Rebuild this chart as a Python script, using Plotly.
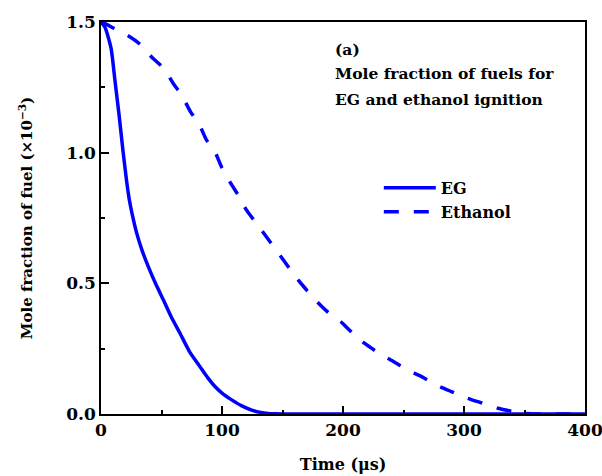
import plotly.graph_objects as go

# Time axis (microseconds) and fuel mole fraction (x 1e-3)
eg_time = [0, 3.3, 8.3, 11.6, 14.9, 17.9, 21.2, 23.4, 25.9, 29.5, 34, 39.1, 45, 51.5,
           58, 65.3, 73, 81.8, 88, 94.2, 101, 108, 116, 124.5, 132, 138, 145, 150, 200, 300, 400]
eg_frac = [1.5, 1.48, 1.40, 1.273, 1.146, 1.018, 0.89, 0.82, 0.762, 0.692, 0.625, 0.564, 0.50, 0.437,
           0.372, 0.309, 0.24, 0.181, 0.14, 0.105, 0.076, 0.054, 0.032, 0.015, 0.006, 0.002, 0.0005, 0, 0, 0, 0]

ethanol_time = [0, 5, 11, 22, 32, 42, 52, 60, 67, 74, 81, 87, 94, 100, 107, 114, 120, 130, 140,
                150, 160, 168, 177, 187, 198, 208, 218, 229, 242, 253, 265, 277, 290, 302, 315,
                328, 340, 352, 358, 400]
ethanol_frac = [1.5, 1.49, 1.475, 1.449, 1.416, 1.365, 1.322, 1.263, 1.218, 1.156, 1.11, 1.05, 1.005,
                0.941, 0.884, 0.833, 0.782, 0.72, 0.657, 0.594, 0.53, 0.485, 0.437, 0.392, 0.354,
                0.309, 0.27, 0.235, 0.2, 0.169, 0.143, 0.111, 0.085, 0.062, 0.042, 0.022, 0.01,
                0.002, 0, 0]

x_ticks = [0, 100, 200, 300, 400]
y_ticks = [0.0, 0.5, 1.0, 1.5]

panel_lines = ["(a)", "Mole fraction of fuels for", "EG and ethanol ignition"]

FONT = "DejaVu Serif"
BLUE = "#0000ff"


def bold(size):
    return dict(family=FONT, size=size, color="black", weight="bold")


fig = go.Figure()
fig.add_trace(go.Scatter(x=eg_time, y=eg_frac, mode="lines", name="EG",
                         line=dict(color=BLUE, width=3.5, shape="spline", smoothing=0.6)))
fig.add_trace(go.Scatter(x=ethanol_time, y=ethanol_frac, mode="lines", name="Ethanol",
                         line=dict(color=BLUE, width=3.5, dash="15px,15px", shape="spline", smoothing=0.6)))

axis_common = dict(showline=True, linecolor="black", linewidth=1.5, mirror=True,
                   ticks="inside", ticklen=8, tickwidth=1.5, tickcolor="black",
                   showgrid=False, zeroline=False, automargin=False,
                   ticklabeloverflow="allow", tickfont=bold(17))

fig.update_xaxes(range=[0, 400], tickvals=x_ticks, ticktext=[str(v) for v in x_ticks],
                 minor=dict(ticks="inside", ticklen=4, tickwidth=1.5, tickcolor="black", dtick=50),
                 title=dict(text="Time (μs)", font=bold(16), standoff=20),
                 **axis_common)
fig.update_yaxes(range=[0, 1.5], tickvals=y_ticks, ticktext=[f"{v:.1f}" for v in y_ticks],
                 minor=dict(ticks="inside", ticklen=4, tickwidth=1.5, tickcolor="black", dtick=0.25),
                 title=dict(text="Mole fraction of fuel (×10<sup>−3</sup>)", font=bold(15), standoff=30),
                 **axis_common)

# Panel label and description, one line per annotation
for text, ypos in zip(panel_lines, [0.931, 0.869, 0.803]):
    fig.add_annotation(x=0.4795, y=ypos, xref="paper", yref="paper", xanchor="left",
                       yanchor="middle", align="left", showarrow=False, text=text,
                       font=bold(15.5))

fig.update_layout(
    width=602, height=476,
    margin=dict(l=101, r=17, t=22, b=62),
    paper_bgcolor="white", plot_bgcolor="white",
    font=dict(family=FONT, color="black"),
    showlegend=True,
    legend=dict(x=0.574, y=0.62, xanchor="left", yanchor="top", bgcolor="rgba(0,0,0,0)",
                font=bold(16), tracegroupgap=0, itemwidth=52),
)

fig.write_html("out.html")
